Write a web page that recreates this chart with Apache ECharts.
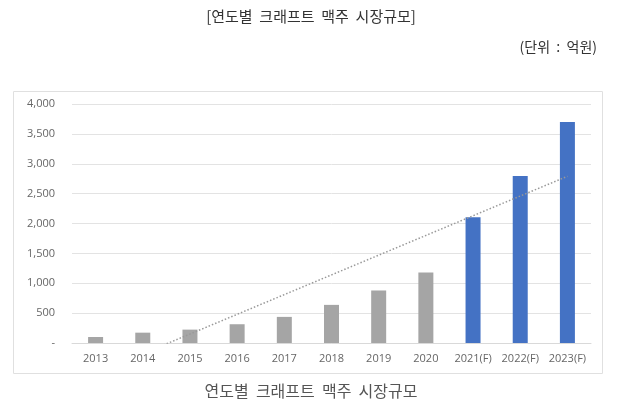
<!DOCTYPE html>
<html>
<head>
<meta charset="utf-8">
<script src="https://cdn.jsdelivr.net/npm/echarts@6/dist/echarts.min.js"></script>
<style>
  html, body { margin: 0; padding: 0; background: #fff; }
  #chart { width: 630px; height: 406px; }
</style>
</head>
<body>
<div id="chart"></div>
<script>
// 연도별 크래프트 맥주 시장규모 (단위: 억원)
const years = ['2013', '2014', '2015', '2016', '2017', '2018', '2019', '2020', '2021(F)', '2022(F)', '2023(F)'];
const marketSize = [100, 173, 224, 314, 437, 638, 879, 1181, 2105, 2794, 3697];
const isForecast = [false, false, false, false, false, false, false, false, true, true, true];
// trend line end points (clipped at 0)
const trendYears = ['2013', '2023(F)'];
const trendValues = [-510, 2790];
const yTicks = [0, 500, 1000, 1500, 2000, 2500, 3000, 3500, 4000];

const chart = echarts.init(document.getElementById('chart'));
const krFont = '"Noto Sans CJK KR", "Noto Sans", sans-serif';

chart.setOption({
  animation: false,
  title: [
    {
      text: '[연도별  크래프트  맥주  시장규모]',
      left: 306, top: 4, textAlign: 'center',
      textStyle: { fontFamily: krFont, fontSize: 15, fontWeight: 'normal', color: '#333' }
    },
    {
      text: '(단위  :  억원)',
      right: 28, top: 35,
      textStyle: { fontFamily: krFont, fontSize: 14, fontWeight: 'normal', color: '#333' }
    },
    {
      text: '연도별  크래프트  맥주  시장규모',
      left: 306, top: 378, textAlign: 'center',
      textStyle: { fontFamily: krFont, fontSize: 16, fontWeight: 'normal', color: '#555' }
    }
  ],
  graphic: [{
    type: 'rect',
    shape: { x: 13.5, y: 91.5, width: 589, height: 282 },
    style: { fill: 'none', stroke: '#e0e0e0', lineWidth: 1 },
    silent: true
  }],
  grid: { left: 72, right: 39, top: 104, bottom: 63 },
  xAxis: {
    type: 'category',
    data: years,
    axisLine: { lineStyle: { color: '#d9d9d9' } },
    axisTick: { show: false },
    axisLabel: { color: '#666', fontSize: 11, fontFamily: '"Open Sans", sans-serif', margin: 10, interval: 0 }
  },
  yAxis: {
    type: 'value',
    min: 0, max: yTicks[yTicks.length - 1], interval: 500,
    axisLine: { show: false },
    axisTick: { show: false },
    splitLine: { lineStyle: { color: '#e3e3e3' } },
    axisLabel: {
      color: '#666', fontSize: 11, fontFamily: '"Open Sans", sans-serif', margin: 17,
      formatter: v => v === 0 ? '-' : v.toLocaleString('en-US')
    }
  },
  series: [
    {
      type: 'bar',
      barWidth: 15,
      data: marketSize.map((v, i) => ({
        value: v,
        itemStyle: { color: isForecast[i] ? '#4472c4' : '#a5a5a5' }
      }))
    },
    {
      type: 'line',
      clip: true,
      symbol: 'none',
      data: trendYears.map((y, i) => [y, trendValues[i]]),
      lineStyle: { color: '#999', width: 1.5, type: [1.5, 2] },
      z: 3
    }
  ]
});
</script>
</body>
</html>
